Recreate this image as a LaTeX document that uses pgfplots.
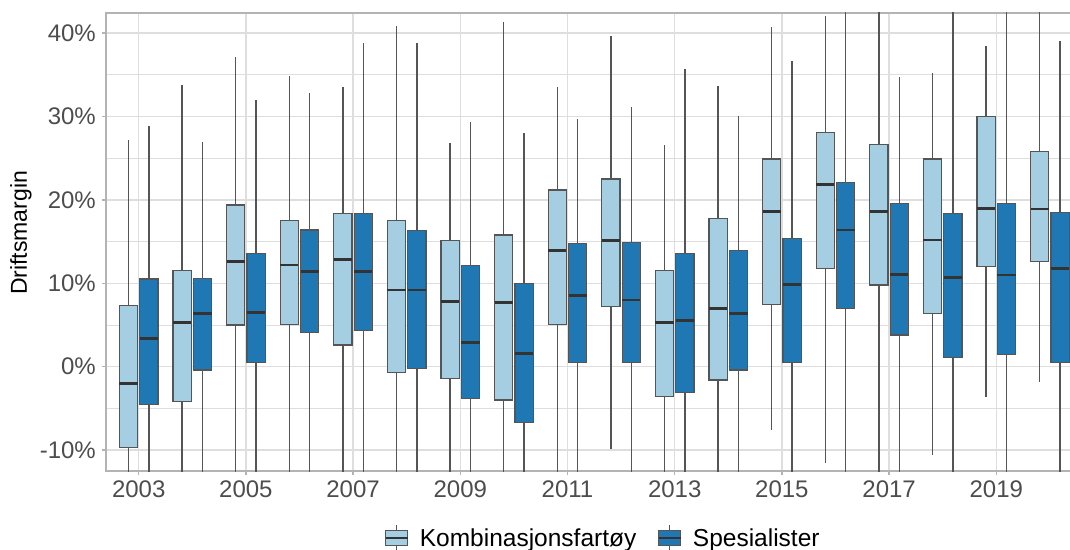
\documentclass[border=0pt]{standalone}
\usepackage{pgfplots}
\pgfplotsset{compat=1.18}
\usepackage{pgfplotstable}
\usepgfplotslibrary{statistics}
\usepackage{fontspec}
\setmainfont{Liberation Sans}

\definecolor{kombfill}{HTML}{A6CEE3}
\definecolor{spesfill}{HTML}{1F78B4}
\definecolor{boxline}{HTML}{555555}
\definecolor{medline}{HTML}{333333}
\definecolor{gridcol}{HTML}{DEDEDE}
\definecolor{framecol}{HTML}{B3B3B3}
\definecolor{ticktext}{HTML}{4D4D4D}

% Driftsmargin (%), one row per year 2003-2020
% whiskers of -15 / 45 run past the panel edge
\pgfplotstableread{
year lw lq med uq uw
2003 -15 -9.7 -2.0 7.3 27.2
2004 -15 -4.2 5.3 11.5 33.8
2005 -15 5.0 12.6 19.4 37.1
2006 -15 5.1 12.2 17.5 34.8
2007 -15 2.6 12.9 18.4 33.5
2008 -15 -0.7 9.2 17.5 40.9
2009 -15 -1.4 7.8 15.1 26.8
2010 -15 -4.0 7.7 15.8 41.3
2011 -15 5.1 13.9 21.2 33.5
2012 -9.9 7.2 15.1 22.5 39.6
2013 -15 -3.6 5.3 11.5 26.6
2014 -15 -1.6 7.0 17.8 33.6
2015 -7.6 7.5 18.6 24.9 40.7
2016 -11.5 11.8 21.8 28.1 42.0
2017 -15 9.8 18.6 26.6 45
2018 -10.6 6.4 15.2 24.9 35.2
2019 -3.6 12.0 19.0 30.0 38.4
2020 -1.8 12.6 18.9 25.8 45
}\komb

\pgfplotstableread{
year lw lq med uq uw
2003 -15 -4.5 3.4 10.5 28.9
2004 -15 -0.4 6.4 10.6 26.9
2005 -15 0.5 6.5 13.6 32.0
2006 -15 4.1 11.4 16.4 32.8
2007 -15 4.3 11.4 18.4 38.8
2008 -15 -0.2 9.2 16.3 38.8
2009 -15 -3.8 2.9 12.1 29.3
2010 -15 -6.7 1.6 10.0 28.0
2011 -15 0.5 8.5 14.8 29.7
2012 -15 0.5 8.0 14.9 31.1
2013 -15 -3.1 5.5 13.6 35.7
2014 -15 -0.4 6.4 13.9 30.0
2015 -15 0.5 9.9 15.4 36.6
2016 -15 7.0 16.4 22.1 45
2017 -15 3.8 11.1 19.6 34.7
2018 -15 1.1 10.7 18.4 45
2019 -15 1.5 11.0 19.6 45
2020 -15 0.5 11.8 18.5 39.0
}\spes

% one prepared box from row #2 of table #1, shifted by #3, filled #4
% (x = row index, 0 = 2003)
\newcommand\boxrow[4]{%
  \pgfplotstablegetelem{#2}{lw}\of#1\edef\bLW{\pgfplotsretval}%
  \pgfplotstablegetelem{#2}{lq}\of#1\edef\bLQ{\pgfplotsretval}%
  \pgfplotstablegetelem{#2}{med}\of#1\edef\bMED{\pgfplotsretval}%
  \pgfplotstablegetelem{#2}{uq}\of#1\edef\bUQ{\pgfplotsretval}%
  \pgfplotstablegetelem{#2}{uw}\of#1\edef\bUW{\pgfplotsretval}%
  \edef\doplot{\noexpand\addplot[forget plot, draw=boxline, line width=1.3pt, fill=#4,
    boxplot prepared={draw position=#2#3, box extend=0.34, whisker extend=0,
      lower whisker=\bLW, lower quartile=\bLQ, median=\bMED,
      upper quartile=\bUQ, upper whisker=\bUW}] coordinates {};}%
  \doplot
}

\pgfplotsset{
  boxleg/.style={legend image code/.code={
    \draw[boxline, line width=1.3pt] (11pt,-13pt) -- (11pt,13pt);
    \draw[boxline, line width=1.3pt, fill=#1] (0pt,-7.7pt) rectangle (22pt,7.7pt);
    \draw[medline, line width=2.6pt] (0pt,0pt) -- (22pt,0pt);
  }}
}

\begin{document}
\begin{tikzpicture}
\begin{axis}[
    scale only axis,
    width=976.6pt, height=458pt,
    xmin=-0.61, xmax=17.61,
    ymin=-12.5, ymax=42.4,
    boxplot/draw direction=y,
    xtick={0,2,...,16},
    xticklabels={2003,2005,2007,2009,2011,2013,2015,2017,2019},
    ytick={-10,0,10,20,30,40},
    minor ytick={-5,5,15,25,35},
    yticklabel={\pgfmathparse{int(round(\tick))}\pgfmathresult\%},
    xtick pos=bottom, ytick pos=left,
    tick align=outside,
    major tick length=4pt, minor tick length=0pt,
    major tick style={framecol, line width=1.3pt},
    axis line style={framecol, line width=1.3pt},
    grid=both,
    major grid style={gridcol, line width=1.3pt},
    minor grid style={gridcol, line width=0.8pt},
    tick label style={font=\fontsize{24}{28}\selectfont, text=ticktext},
    xticklabel style={inner sep=0pt, anchor=north, yshift=-6pt},
    yticklabel style={inner sep=0pt, anchor=east, xshift=-6pt},
    ylabel={Driftsmargin},
    ylabel style={font=\fontsize{23}{27}\selectfont, at={(axis description cs:-0.087,0.52)}, anchor=center},
    legend style={at={(axis description cs:0.5078,-0.1463)}, anchor=center,
        draw=none, fill=none, legend columns=2,
        font=\fontsize{24.5}{28}\selectfont,
        nodes={inner sep=0pt},
        /tikz/every odd column/.append style={column sep=11pt},
        /tikz/every even column/.append style={column sep=21pt}},
    legend cell align=left,
    boxplot/every median/.style={medline, line width=2.8pt},
]
\pgfplotsinvokeforeach{0,...,17}{
  \boxrow{\komb}{#1}{-0.19}{kombfill}
  \boxrow{\spes}{#1}{+0.19}{spesfill}
}
\addlegendimage{boxleg=kombfill}
\addlegendentry{Kombinasjonsfartøy}
\addlegendimage{boxleg=spesfill}
\addlegendentry{Spesialister}
\end{axis}
\pgfresetboundingbox
\path[use as bounding box] ([shift={(-106pt,-78pt)}]current axis.south west)
  rectangle ([shift={(964pt,13pt)}]current axis.north west);
\end{tikzpicture}
\end{document}
